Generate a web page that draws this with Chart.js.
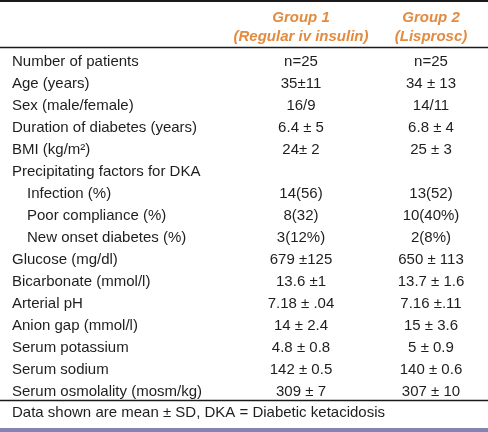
<!DOCTYPE html>
<html>
<head>
<meta charset="utf-8">
<script src="https://cdn.jsdelivr.net/npm/chart.js@4/dist/chart.umd.min.js"></script>
<style>
  html, body { margin: 0; padding: 0; background: #fff; }
  #wrap { width: 488px; height: 432px; }
</style>
</head>
<body>
<div id="wrap"><canvas id="table" width="488" height="432"></canvas></div>
<script>
// table content
const rowLabels = [
  'Number of patients',
  'Age (years)',
  'Sex (male/female)',
  'Duration of diabetes (years)',
  'BMI (kg/m²)',
  'Precipitating factors for DKA',
  'Infection (%)',
  'Poor compliance (%)',
  'New onset diabetes (%)',
  'Glucose (mg/dl)',
  'Bicarbonate (mmol/l)',
  'Arterial pH',
  'Anion gap (mmol/l)',
  'Serum potassium',
  'Serum sodium',
  'Serum osmolality (mosm/kg)',
];
const indentedRows = [6, 7, 8];
const group1 = ['n=25', '35±11', '16/9', '6.4 ± 5', '24± 2', '', '14(56)', '8(32)', '3(12%)',
  '679 ±125', '13.6 ±1', '7.18 ± .04', '14 ± 2.4', '4.8 ± 0.8', '142 ± 0.5', '309 ± 7'];
const group2 = ['n=25', '34 ± 13', '14/11', '6.8 ± 4', '25 ± 3', '', '13(52)', '10(40%)', '2(8%)',
  '650 ± 113', '13.7 ± 1.6', '7.16 ±.11', '15 ± 3.6', '5 ± 0.9', '140 ± 0.6', '307 ± 10'];
const headers = [
  ['Group 1', '(Regular iv insulin)'],
  ['Group 2', '(Lisprosc)'],
];
const footnote = 'Data shown are mean ± SD, DKA = Diabetic ketacidosis';

// layout
const FONT = '15px "Liberation Sans", Arial, sans-serif';
const HEAD_FONT = 'italic bold 15px "Liberation Sans", Arial, sans-serif';
const TEXT = '#1e1e1e';
const ORANGE = '#e38b3f';
const colX = { label: 12, indent: 27, g1: 301, g2: 431 };

const toPoints = (texts, x) =>
  rowLabels.map((row, i) => ({ x: typeof x === 'function' ? x(i) : x, y: row, text: texts[i] }));

const tablePlugin = {
  id: 'tableText',
  afterDatasetsDraw(chart) {
    const { ctx, chartArea: { top, bottom }, width, height } = chart;
    ctx.save();
    ctx.textBaseline = 'middle';

    chart.data.datasets.forEach((ds, di) => {
      const meta = chart.getDatasetMeta(di);
      ctx.font = FONT;
      ctx.fillStyle = TEXT;
      ctx.textAlign = ds.align;
      meta.data.forEach((pt, i) => {
        const t = ds.data[i].text;
        if (t) ctx.fillText(t, pt.x, pt.y);
      });
    });

    // header
    const xs = chart.scales.x;
    ctx.font = HEAD_FONT;
    ctx.fillStyle = ORANGE;
    ctx.textAlign = 'center';
    headers.forEach((h, i) => {
      const cx = xs.getPixelForValue(i === 0 ? colX.g1 : colX.g2);
      ctx.fillText(h[0], cx, 18);
      ctx.fillText(h[1], cx, 37);
    });

    // rules
    ctx.strokeStyle = '#1a1a1a';
    ctx.lineWidth = 2;
    ctx.beginPath(); ctx.moveTo(0, 1); ctx.lineTo(width, 1); ctx.stroke();
    ctx.lineWidth = 1.3;
    ctx.beginPath(); ctx.moveTo(0, top - 3.5); ctx.lineTo(width, top - 3.5); ctx.stroke();
    ctx.beginPath(); ctx.moveTo(0, bottom - 2.5); ctx.lineTo(width, bottom - 2.5); ctx.stroke();

    // footnote
    ctx.font = FONT;
    ctx.fillStyle = TEXT;
    ctx.textAlign = 'left';
    ctx.fillText(footnote, colX.label, bottom + 10);

    ctx.fillStyle = '#8484b4';
    ctx.fillRect(0, height - 4, width, 4);
    ctx.restore();
  },
};

new Chart(document.getElementById('table'), {
  type: 'scatter',
  data: {
    labels: rowLabels,
    datasets: [
      { label: 'label', align: 'left',
        data: toPoints(rowLabels, (i) => (indentedRows.includes(i) ? colX.indent : colX.label)) },
      { label: headers[0].join(' '), align: 'center', data: toPoints(group1, colX.g1) },
      { label: headers[1].join(' '), align: 'center', data: toPoints(group2, colX.g2) },
    ],
  },
  options: {
    responsive: false,
    animation: false,
    devicePixelRatio: 1,
    layout: { padding: { top: 51, bottom: 29, left: 0, right: 0 } },
    elements: { point: { radius: 0, hoverRadius: 0 } },
    plugins: { legend: { display: false }, tooltip: { enabled: false } },
    scales: {
      x: { type: 'linear', min: 0, max: 488, display: false },
      y: { type: 'category', labels: rowLabels, offset: true, display: false },
    },
  },
  plugins: [tablePlugin],
});
</script>
</body>
</html>
